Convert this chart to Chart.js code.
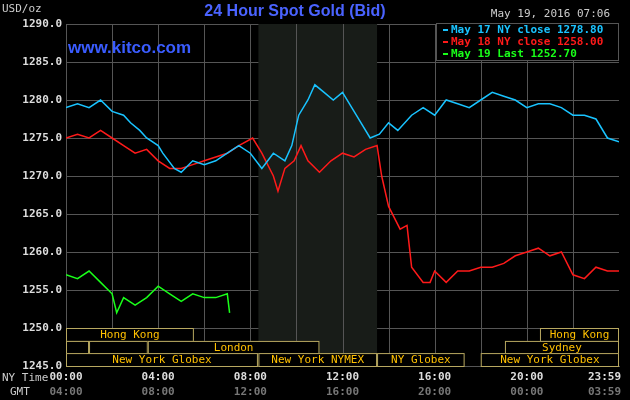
<!DOCTYPE html>
<html><head><meta charset="utf-8">
<script src="https://cdn.jsdelivr.net/npm/chart.js@4/dist/chart.umd.min.js"></script>
<style>body{margin:0;background:#000}#w{width:630px;height:400px}</style>
</head><body><div id="w"><canvas id="c"></canvas></div>
<script>
// hours since 00:00 NY time, and price
const blueHours = [0,0.5,1,1.5,2,2.5,2.8,3.2,3.5,4,4.2,4.7,5,5.5,6,6.5,7,7.5,8,8.5,9,9.5,9.8,10.1,10.5,10.8,11.2,11.6,12,12.6,13.2,13.6,14,14.4,15,15.5,16,16.5,17,17.5,18,18.5,19,19.5,20,20.5,21,21.5,22,22.5,23,23.5,24];
const blueVals = [1279,1279.5,1279,1280,1278.5,1278,1277,1276,1275,1274,1273,1271,1270.5,1272,1271.5,1272,1273,1274,1273,1271,1273,1272,1274,1278,1280,1282,1281,1280,1281,1278,1275,1275.5,1277,1276,1278,1279,1278,1280,1279.5,1279,1280,1281,1280.5,1280,1279,1279.5,1279.5,1279,1278,1278,1277.5,1275,1274.5];
const redHours = [0,0.5,1,1.5,2,2.5,3,3.5,4,4.5,5,5.5,6,6.5,7,7.5,8.1,8.5,9,9.2,9.5,9.9,10.2,10.5,11,11.5,12,12.5,13,13.5,13.7,14,14.5,14.8,15,15.5,15.8,16,16.5,17,17.5,18,18.5,19,19.5,20,20.5,21,21.5,22,22.5,23,23.5,24];
const redVals = [1275,1275.5,1275,1276,1275,1274,1273,1273.5,1272,1271,1271,1271.5,1272,1272.5,1273,1274,1275,1273,1270,1268,1271,1272,1274,1272,1270.5,1272,1273,1272.5,1273.5,1274,1270,1266,1263,1263.5,1258,1256,1256,1257.5,1256,1257.5,1257.5,1258,1258,1258.5,1259.5,1260,1260.5,1259.5,1260,1257,1256.5,1258,1257.5,1257.5];
const greenHours = [0,0.5,1,1.5,2,2.2,2.5,3,3.5,4,4.5,5,5.5,6,6.5,7,7.1];
const greenVals = [1257,1256.5,1257.5,1256,1254.5,1252,1254,1253,1254,1255.5,1254.5,1253.5,1254.5,1254,1254,1254.5,1252];
const legendLabels = ['May 17 NY close 1278.80','May 18 NY close 1258.00','May 19 Last 1252.70'];
const nyTicks = ['00:00','04:00','08:00','12:00','16:00','20:00','23:59'];
const gmtTicks = ['04:00','08:00','12:00','16:00','20:00','00:00','03:59'];
// sessions: [row, start hour, end hour, label]
const sessions = [
  [0,0,5.55,'Hong Kong'],[0,20.57,24,'Hong Kong'],
  [1,0,1,''],[1,1,3.55,''],[1,3.55,11,'London'],[1,19.05,24,'Sydney'],
  [2,0,8.33,'New York Globex'],[2,8.35,13.5,'New York NYMEX'],[2,13.5,17.3,'NY Globex'],[2,18,24,'New York Globex']
];
const colors = ['#19c3ff','#ff1a1a','#19ff19'];
const mono = '"DejaVu Sans Mono", monospace';

function pts(h, v){ return h.map((x,i)=>({x:x,y:v[i]})); }

const deco = {
  id:'deco',
  beforeDatasetsDraw(chart){
    const {ctx, scales:{x,y}, chartArea:a} = chart;
    ctx.save();
    ctx.fillStyle = '#181c18';
    ctx.fillRect(x.getPixelForValue(8.35), a.top, x.getPixelForValue(13.5)-x.getPixelForValue(8.35), a.bottom-a.top);
    // vertical grid every 2h
    ctx.strokeStyle = '#555'; ctx.lineWidth = 1;
    for (let h=2; h<24; h+=2){ const px=Math.round(x.getPixelForValue(h))+0.5; ctx.beginPath(); ctx.moveTo(px,a.top); ctx.lineTo(px,a.bottom); ctx.stroke(); }
    // session boxes
    const rows=[1250,1248.3,1246.7,1245];
    ctx.strokeStyle='#b8a860';
    ctx.font='11px '+mono; ctx.textBaseline='middle';
    sessions.forEach(s=>{
      const x0=x.getPixelForValue(s[1]), x1=x.getPixelForValue(s[2]);
      const y0=y.getPixelForValue(rows[s[0]]), y1=y.getPixelForValue(rows[s[0]+1]);
      ctx.fillStyle='#000'; ctx.fillRect(x0,y0,x1-x0,y1-y0);
      ctx.strokeRect(x0+0.5,y0+0.5,x1-x0-1,y1-y0);
      ctx.fillStyle='#ffc000'; ctx.textAlign='center';
      if (s[3]) ctx.fillText(s[3],(x0+x1)/2,(y0+y1)/2+1);
    });
    ctx.restore();
  },
  afterDraw(chart){
    const {ctx, scales:{x}, chartArea:a} = chart;
    ctx.save();
    ctx.font='bold 16px "Liberation Sans", Arial'; ctx.fillStyle='#4a63ff'; ctx.textAlign='center'; ctx.textBaseline='middle';
    ctx.fillText('24 Hour Spot Gold (Bid)',295,12);
    ctx.font='bold 17px "Liberation Sans", Arial'; ctx.textAlign='left'; ctx.fillStyle='#3a5cff';
    ctx.fillText('www.kitco.com',68,48);
    ctx.font='11px '+mono; ctx.fillStyle='#ccc';
    ctx.fillText('USD/oz',2,9);
    ctx.textAlign='right'; ctx.fillText('May 19, 2016 07:06',610,14);
    // legend
    ctx.fillStyle='#000'; ctx.fillRect(436,23,182,37);
    ctx.strokeStyle='#555'; ctx.strokeRect(436.5,23.5,182,37);
    ctx.textAlign='left'; ctx.font='bold 11px '+mono;
    legendLabels.forEach((t,i)=>{ ctx.fillStyle=colors[i]; ctx.fillRect(443,29+i*12,5,2); ctx.fillText(t,451,30+i*12); });
    // x labels
    ctx.font='bold 11px '+mono;
    nyTicks.forEach((t,i)=>{
      const h = i===6?24:i*4; const px=x.getPixelForValue(h);
      ctx.textAlign = i===6?'right':'center';
      ctx.fillStyle='#ddd'; ctx.fillText(t, i===6?a.right+2:px, a.bottom+11);
      ctx.fillStyle='#777'; ctx.fillText(gmtTicks[i], i===6?a.right+2:px, a.bottom+26);
    });
    ctx.font='11px '+mono; ctx.fillStyle='#ccc'; ctx.textAlign='left';
    ctx.fillText('NY Time',2,a.bottom+12); ctx.fillText('GMT',10,a.bottom+26);
    ctx.restore();
  }
};

new Chart(document.getElementById('c'), {
  type:'line',
  data:{ datasets:[
    {data:pts(blueHours,blueVals),borderColor:colors[0]},
    {data:pts(redHours,redVals),borderColor:colors[1]},
    {data:pts(greenHours,greenVals),borderColor:colors[2]}
  ]},
  options:{
    responsive:true, maintainAspectRatio:false, animation:false,
    layout:{padding:{top:24,right:11,bottom:26,left:0}},
    elements:{point:{radius:0},line:{borderWidth:1.5,tension:0}},
    plugins:{legend:{display:false},tooltip:{enabled:false}},
    scales:{
      x:{type:'linear',min:0,max:24,ticks:{display:false},grid:{display:false},border:{color:'#555'}},
      y:{min:1245,max:1290,afterFit(s){s.width=66;},
        ticks:{stepSize:5,color:'#ddd',font:{family:'"DejaVu Sans Mono", monospace',size:11,weight:'bold'},callback:v=>v.toFixed(1),padding:4},
        grid:{color:'#555',drawTicks:false},border:{color:'#555'}}
    }
  },
  plugins:[deco]
});
</script></body></html>
